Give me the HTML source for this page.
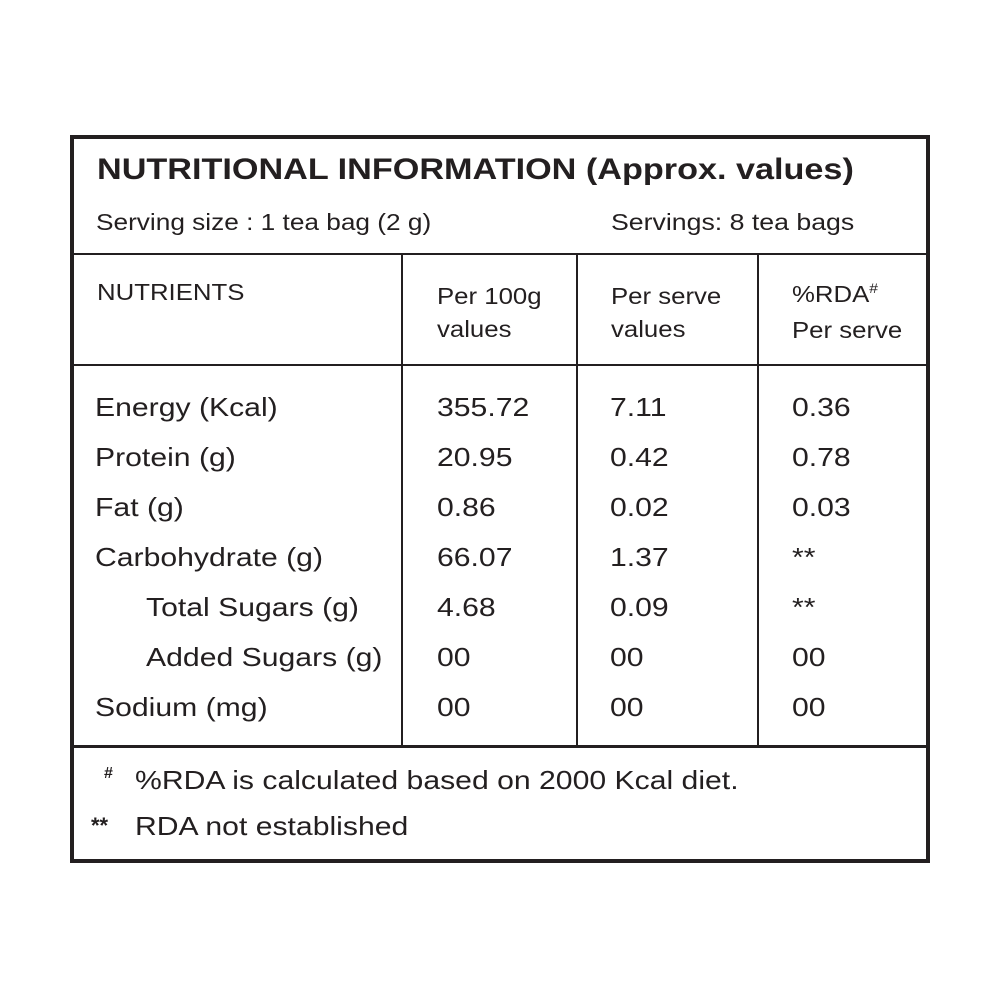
<!DOCTYPE html>
<html><head><style>
body{margin:0;width:1000px;height:1000px;background:#fff;position:relative;font-family:"Liberation Sans",sans-serif;color:#231f20;overflow:hidden}
.l{position:absolute;background:#231f20}
.t{position:absolute;white-space:nowrap;line-height:1;transform-origin:0 0}
.b{font-size:26px;transform:scaleX(1.16)}
.h{font-size:23px;transform:scaleX(1.12)}
</style></head><body>
<div class="l" style="left:70px;top:135px;width:860px;height:4px"></div>
<div class="l" style="left:70px;top:859px;width:860px;height:4px"></div>
<div class="l" style="left:70px;top:135px;width:4px;height:728px"></div>
<div class="l" style="left:926px;top:135px;width:4px;height:728px"></div>
<div class="l" style="left:72px;top:253px;width:856px;height:2px"></div>
<div class="l" style="left:72px;top:364px;width:856px;height:2px"></div>
<div class="l" style="left:72px;top:745px;width:856px;height:3px"></div>
<div class="l" style="left:401px;top:254px;width:2px;height:492px"></div>
<div class="l" style="left:576px;top:254px;width:2px;height:492px"></div>
<div class="l" style="left:757px;top:254px;width:2px;height:492px"></div>

<div class="t" style="left:97px;top:155px;font-size:30px;font-weight:bold;transform:scaleX(1.14)">NUTRITIONAL INFORMATION (Approx. values)</div>
<div class="t h" style="left:96px;top:211px;transform:scaleX(1.14)">Serving size : 1 tea bag (2 g)</div>
<div class="t h" style="left:611px;top:211px;transform:scaleX(1.16)">Servings: 8 tea bags</div>

<div class="t h" style="left:97px;top:281px">NUTRIENTS</div>
<div class="t h" style="left:437px;top:280px;line-height:33px">Per 100g<br>values</div>
<div class="t h" style="left:611px;top:280px;line-height:33px">Per serve<br>values</div>
<div class="t h" style="left:792px;top:278px;line-height:33px">%RDA<span style="font-size:14px;position:relative;top:-9px">#</span><br>Per serve</div>

<div class="t b" style="left:95px;top:382px;line-height:50px">Energy (Kcal)<br>Protein (g)<br>Fat (g)<br>Carbohydrate (g)<br><span style="padding-left:44px">Total Sugars (g)</span><br><span style="padding-left:44px">Added Sugars (g)</span><br>Sodium (mg)</div>
<div class="t b" style="left:437px;top:382px;line-height:50px">355.72<br>20.95<br>0.86<br>66.07<br>4.68<br>00<br>00</div>
<div class="t b" style="left:610px;top:382px;line-height:50px">7.11<br>0.42<br>0.02<br>1.37<br>0.09<br>00<br>00</div>
<div class="t b" style="left:792px;top:382px;line-height:50px">0.36<br>0.78<br>0.03<br>**<br>**<br>00<br>00</div>

<div class="t" style="left:104px;top:766px;font-size:16px;font-weight:bold">#</div>
<div class="t b" style="left:135px;top:767px">%RDA is calculated based on 2000 Kcal diet.</div>
<div class="t" style="left:91px;top:815px;font-size:22px;font-weight:bold">**</div>
<div class="t b" style="left:135px;top:813px">RDA not established</div>
</body></html>
